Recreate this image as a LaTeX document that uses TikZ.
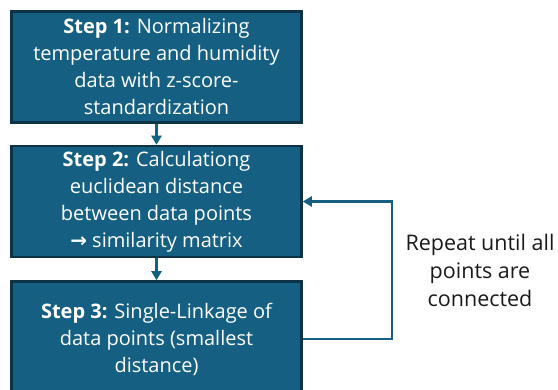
\documentclass[tikz,border=0pt]{standalone}
\usepackage{fontspec}
\setmainfont{Open Sans}
\newfontfamily\symfont{DejaVu Sans}
\usetikzlibrary{positioning,arrows.meta}
\definecolor{stepblue}{HTML}{156082}
\definecolor{stepedge}{HTML}{0E3347}
\definecolor{notetext}{HTML}{1A1A1A}

\begin{document}
\begin{tikzpicture}[x=1pt, y=-1pt, >={Triangle[length=9pt, width=10pt]},
  stepbox/.style={draw=stepedge, line width=2.5pt, fill=stepblue, text=white,
    minimum width=290pt, minimum height=111pt, align=center,
    font=\fontsize{20}{27}\selectfont},
  flow/.style={->, draw=stepblue, line width=2.2pt}]
\useasboundingbox (0,0) rectangle (558,390);
\node[stepbox] (s1) at (156.5,67) {\textbf{Step 1:} Normalizing\\temperature and humidity\\data with z-score-\\standardization};
\node[stepbox, below=21pt of s1] (s2) {\textbf{Step 2:} Calculationg\\euclidean distance\\between data points\\{\symfont\bfseries →} similarity matrix};
\node[stepbox, below=22pt of s2, minimum height=115pt] (s3) {\textbf{Step 3:} Single-Linkage of\\data points (smallest\\distance)};

\draw[flow] (s1) -- (s2);
\draw[flow] (s2) -- (s3);
\draw[flow] (s3.east) -- ++(89,0) |- (s2.east);

\node[font=\fontsize{21.5}{28}\selectfont, text=notetext, align=center] (note) at (480,270) {Repeat until all\\points are\\connected};
\end{tikzpicture}
\end{document}
